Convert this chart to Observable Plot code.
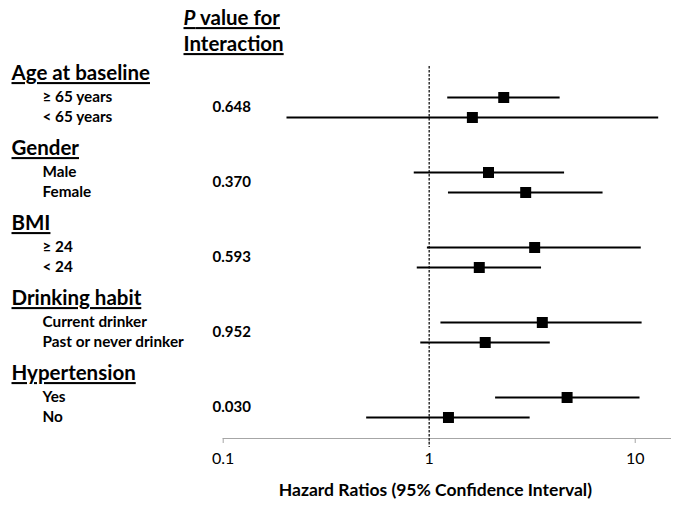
<!DOCTYPE html>
<html>
<head>
<meta charset="utf-8">
<script src="https://cdn.jsdelivr.net/npm/d3@7"></script>
<script src="https://cdn.jsdelivr.net/npm/@observablehq/plot@0.6"></script>
<style>
  html, body { margin: 0; padding: 0; background: #fff; }
  svg { display: block; }
</style>
</head>
<body>
<script>
// ---- data ----
const groups = ["Age at baseline", "Gender", "BMI", "Drinking habit", "Hypertension"];
const subgroups = ["≥ 65 years", "< 65 years", "Male", "Female", "≥ 24", "< 24",
                   "Current drinker", "Past or never drinker", "Yes", "No"];
const hr    = [2.30, 1.62, 1.94, 2.94, 3.25, 1.75, 3.54, 1.87, 4.67, 1.24];
const lower = [1.23, 0.204, 0.846, 1.24, 0.98, 0.875, 1.14, 0.91, 2.10, 0.497];
const upper = [4.32, 13.0, 4.54, 6.98, 10.7, 3.51, 10.8, 3.87, 10.55, 3.09];
const pValues = ["0.648", "0.370", "0.593", "0.952", "0.030"];
const xTicks = [0.1, 1, 10];
const pHeader = ["P value for", "Interaction"];
const xTitle = "Hazard Ratios (95% Confidence Interval)";

// ---- layout (row units) ----
const groupStep = 3.75, firstRow = 1.45, headerOffset = -1.2, axisRow = 18.5;
const rows = subgroups.map((label, k) => {
  const g = Math.floor(k / 2), i = k % 2;
  return {label, g, hr: hr[k], lo: lower[k], hi: upper[k], y: firstRow + g * groupStep + i};
});
const headers = groups.map((name, g) => ({name, y: firstRow + g * groupStep + headerOffset}));
const pRows = pValues.map((p, g) => ({p, y: firstRow + g * groupStep + 0.5}));

const font = "Lato, 'Open Sans', sans-serif";
const marginLeft = 222.7;

const svg = Plot.plot({
  width: 683,
  height: 509,
  marginLeft,
  marginRight: 12,
  marginTop: 68,
  marginBottom: 71,
  style: {fontFamily: font, background: "#fff", color: "#000"},
  x: {type: "log", domain: [0.1, 15]},
  y: {domain: [0, axisRow], reverse: true, axis: null},
  marks: [
    Plot.ruleY([axisRow], {stroke: "#a6a6a6", strokeWidth: 1}),
    Plot.axisX({ticks: xTicks, tickFormat: d => String(d), tickSize: 5, tickPadding: 9,
                stroke: "#a6a6a6", fill: "#000", fontSize: 16, label: null}),
    Plot.ruleX([1], {y1: -0.1, y2: axisRow + 0.45, stroke: "#333", strokeWidth: 1.5, strokeDasharray: "2.5,1.5"}),
    Plot.ruleY(rows, {y: "y", x1: "lo", x2: "hi", stroke: "#000", strokeWidth: 2}),
    Plot.dot(rows, {x: "hr", y: "y", symbol: "square", r: 6.2, fill: "#000", stroke: null}),
    Plot.text(headers, {y: "y", text: "name", frameAnchor: "left", dx: 11 - marginLeft,
                        textAnchor: "start", fontSize: 20.5, fontWeight: "bold", fill: "#000"}),
    Plot.text(rows, {y: "y", text: "label", frameAnchor: "left", dx: 42 - marginLeft,
                     textAnchor: "start", fontSize: 15.3, fontWeight: "bold", fill: "#000"}),
    Plot.text(pRows, {y: "y", text: "p", frameAnchor: "left", dx: 212 - marginLeft,
                      textAnchor: "start", fontSize: 15, fontWeight: "bold", fill: "#000"}),
    Plot.text([pHeader[0]], {frameAnchor: "top-left", lineAnchor: "middle", dx: 183 - marginLeft, dy: -50,
                             textAnchor: "start", fontSize: 20.5, fontWeight: "bold", fill: "#000"}),
    Plot.text([pHeader[1]], {frameAnchor: "top-left", lineAnchor: "middle", dx: 183 - marginLeft, dy: -24,
                             textAnchor: "start", fontSize: 20.5, fontWeight: "bold", fill: "#000"}),
    Plot.text([xTitle], {frameAnchor: "bottom", lineAnchor: "middle", dx: -12, dy: 52,
                         fontSize: 17.5, fontWeight: "bold", fill: "#000"})
  ]
});

// underline the headings, italic P
const underlined = new Set([...groups, ...pHeader]);
const ns = "http://www.w3.org/2000/svg";
svg.querySelectorAll("text").forEach(t => {
  const s = t.textContent;
  if (underlined.has(s)) {
    t.setAttribute("text-decoration", "underline");
    t.style.textDecoration = "underline";
  }
  if (s === pHeader[0]) {
    t.textContent = "";
    const t1 = document.createElementNS(ns, "tspan");
    t1.setAttribute("font-style", "italic");
    t1.textContent = s.slice(0, 1);
    t.appendChild(t1);
    const t2 = document.createElementNS(ns, "tspan");
    t2.textContent = s.slice(1);
    t.appendChild(t2);
  }
});
document.body.appendChild(svg);
</script>
</body>
</html>
